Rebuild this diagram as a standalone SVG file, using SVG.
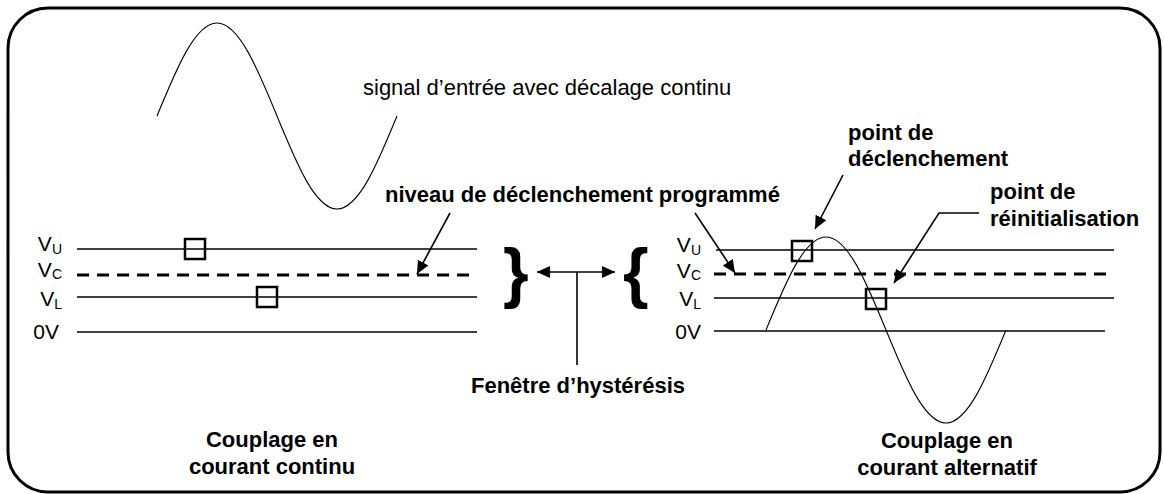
<svg xmlns="http://www.w3.org/2000/svg" width="1164" height="494" viewBox="0 0 1164 494">
<style>
  text { font-family: "Liberation Sans", Arial, sans-serif; fill: #000; }
  .reg { font-size: 22px; }
  .lbl { font-size: 21px; }
  .bold { font-size: 22px; font-weight: bold; }
  .sub { font-size: 14px; }
  .brace { font-size: 66px; font-weight: bold; }
  .lvl { stroke: #000; stroke-width: 1.6; fill: none; }
  .dash { stroke: #000; stroke-width: 3; stroke-dasharray: 12 8; fill: none; }
  .box { stroke: #000; stroke-width: 2.5; fill: none; }
  .sine { stroke: #000; stroke-width: 1.1; fill: none; }
  .conn { stroke: #000; stroke-width: 1.6; fill: none; }
</style>
<defs>
  <marker id="ah" markerUnits="userSpaceOnUse" markerWidth="14" markerHeight="12" refX="13" refY="6" orient="auto-start-reverse">
    <path d="M0,0 L13,6 L0,12 z" fill="#000"/>
  </marker>
</defs>
<rect x="0" y="0" width="1164" height="494" fill="#fff"/>
<rect id="frame" x="8" y="8" width="1152" height="484" rx="40" ry="40" fill="none" stroke="#000" stroke-width="3"/>

<g id="dc-panel">
  <path class="sine" d="M157,116 C176.57,68.36 195.29,23 217,23 C238.71,23 257.43,68.36 277,116 C296.57,163.64 315.29,209 337,209 C358.71,209 377.43,163.64 397,116"/>
  <line class="lvl" x1="77" y1="249" x2="477" y2="249"/>
  <line class="dash" x1="77" y1="275" x2="477" y2="275"/>
  <line class="lvl" x1="77" y1="297" x2="477" y2="297"/>
  <line class="lvl" x1="77" y1="332" x2="477" y2="332"/>
  <rect class="box" x="185" y="239" width="20" height="20"/>
  <rect class="box" x="257" y="287" width="20" height="20"/>
  <text class="lbl" x="62" y="251" text-anchor="end">V<tspan class="sub" dy="3">U</tspan></text>
  <text class="lbl" x="62" y="277" text-anchor="end">V<tspan class="sub" dy="2">C</tspan></text>
  <text class="lbl" x="62" y="306" text-anchor="end">V<tspan class="sub" dy="3">L</tspan></text>
  <text class="lbl" x="59" y="339" text-anchor="end">0V</text>
  <text class="bold" x="272" y="447" text-anchor="middle">Couplage en</text>
  <text class="bold" x="272" y="474" text-anchor="middle">courant continu</text>
</g>

<g id="ac-panel">
  <path class="sine" d="M766,330 C785.57,282.36 804.29,237 826,237 C847.71,237 866.43,282.36 886,330 C905.57,377.64 924.29,423 946,423 C967.71,423 986.43,377.64 1006,330"/>
  <line class="lvl" x1="716" y1="250" x2="1114" y2="250"/>
  <line class="dash" x1="714" y1="274" x2="1114" y2="274"/>
  <line class="lvl" x1="714" y1="298" x2="1114" y2="298"/>
  <line class="lvl" x1="714" y1="331" x2="1105" y2="331"/>
  <rect class="box" x="792" y="241" width="20" height="20"/>
  <rect class="box" x="866" y="289" width="20" height="20"/>
  <text class="lbl" x="701" y="252" text-anchor="end">V<tspan class="sub" dy="3">U</tspan></text>
  <text class="lbl" x="701" y="278" text-anchor="end">V<tspan class="sub" dy="2">C</tspan></text>
  <text class="lbl" x="701" y="306" text-anchor="end">V<tspan class="sub" dy="3">L</tspan></text>
  <text class="lbl" x="701" y="339" text-anchor="end">0V</text>
  <text class="bold" x="947" y="448" text-anchor="middle">Couplage en</text>
  <text class="bold" x="947" y="475" text-anchor="middle">courant alternatif</text>
</g>

<g id="hysteresis">
  <text class="brace" x="503" y="295">}</text>
  <text class="brace" x="623" y="295">{</text>
  <text class="bold" x="578" y="393" text-anchor="middle">Fenêtre d’hystérésis</text>
</g>

<g id="labels">
  <text class="reg" x="363" y="95">signal d’entrée avec décalage continu</text>
  <text class="bold" x="385" y="202">niveau de déclenchement programmé</text>
  <text class="bold" x="848" y="140">point de</text>
  <text class="bold" x="848" y="166">déclenchement</text>
  <text class="bold" x="990" y="199">point de</text>
  <text class="bold" x="990" y="226">réinitialisation</text>
</g>

<g id="connectors">
  <line class="conn" x1="537" y1="272" x2="615" y2="272" marker-start="url(#ah)" marker-end="url(#ah)"/>
  <line class="conn" x1="577" y1="272" x2="577" y2="365"/>
  <line class="conn" x1="450" y1="213" x2="417" y2="274" marker-end="url(#ah)"/>
  <line class="conn" x1="695" y1="213" x2="735" y2="273" marker-end="url(#ah)"/>
  <line class="conn" x1="843" y1="175" x2="815" y2="229" marker-end="url(#ah)"/>
  <polyline class="conn" points="979,213 939,213 894,283" marker-end="url(#ah)"/>
</g>
</svg>
